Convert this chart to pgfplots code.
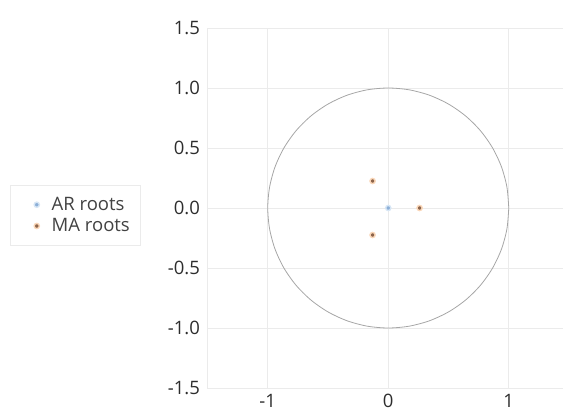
\documentclass[border=0pt]{standalone}
\usepackage{pgfplots}
\pgfplotsset{compat=1.18}
\usepackage{fontspec}
\setmainfont{Open Sans}
\definecolor{arblue}{RGB}{140,175,215}
\definecolor{arbluelight}{RGB}{215,230,245}
\definecolor{maorange}{RGB}{250,215,185}
\definecolor{mafill}{RGB}{140,100,75}
\definecolor{gridc}{RGB}{235,235,235}
\definecolor{circc}{RGB}{166,166,166}
\definecolor{txt}{RGB}{45,45,45}
\begin{document}
\begin{tikzpicture}
\useasboundingbox (-207.5pt,-30pt) rectangle (355.5pt,388pt);
\begin{axis}[
  at={(0,0)}, anchor=south west,
  scale only axis, width=355.5pt, height=360pt,
  xmin=-1.5, xmax=1.45, ymin=-1.5, ymax=1.5,
  axis line style={draw=none},
  xtick={-1,0,1}, ytick={-1.5,-1,...,1.5},
  minor xtick={-1.5},
  xticklabels={-1,0,1},
  yticklabel style={/pgf/number format/fixed, /pgf/number format/fixed zerofill, /pgf/number format/precision=1},
  /pgf/number format/assume math mode=true,
  major tick length=0pt, minor tick length=0pt,
  grid=both,
  major grid style={draw=gridc, line width=0.8pt},
  minor grid style={draw=gridc, line width=0.8pt},
  tick label style={font=\fontsize{18.5}{21}\selectfont, text=txt},
  yticklabel style={xshift=-4pt},
  xticklabel style={yshift=-3pt},
  legend style={at={(-0.5556,0.564)}, anchor=north west, draw=gridc, line width=0.8pt,
    font=\fontsize{18.5}{21}\selectfont, text=txt!90, row sep=2.5pt,
    inner xsep=9pt, inner ysep=10pt, cells={anchor=west}},
  legend cell align=left,
  legend image code/.code={\path (-17pt,0pt) (12.5pt,0pt); \draw plot coordinates {(0pt,0pt)};},
]
\addplot[only marks, mark=*, mark size=2.6pt, mark options={fill=arblue, draw=arbluelight, line width=1.4pt}] coordinates {(0,0)};
\addlegendentry{AR roots}
\addplot[only marks, mark=*, mark size=2.6pt, mark options={fill=mafill, draw=maorange, line width=1.4pt}] coordinates {(0.26,0) (-0.13,0.225) (-0.13,-0.225)};
\addlegendentry{MA roots}
\addplot[draw=circc, line width=0.8pt, smooth, forget plot] coordinates {
(1,0) (0.9848,0.1736) (0.9397,0.3420) (0.8660,0.5) (0.7660,0.6428) (0.6428,0.7660)
(0.5,0.8660) (0.3420,0.9397) (0.1736,0.9848) (0,1) (-0.1736,0.9848) (-0.3420,0.9397)
(-0.5,0.8660) (-0.6428,0.7660) (-0.7660,0.6428) (-0.8660,0.5) (-0.9397,0.3420) (-0.9848,0.1736)
(-1,0) (-0.9848,-0.1736) (-0.9397,-0.3420) (-0.8660,-0.5) (-0.7660,-0.6428) (-0.6428,-0.7660)
(-0.5,-0.8660) (-0.3420,-0.9397) (-0.1736,-0.9848) (0,-1) (0.1736,-0.9848) (0.3420,-0.9397)
(0.5,-0.8660) (0.6428,-0.7660) (0.7660,-0.6428) (0.8660,-0.5) (0.9397,-0.3420) (0.9848,-0.1736)
(1,0)};
\end{axis}
\end{tikzpicture}
\end{document}
